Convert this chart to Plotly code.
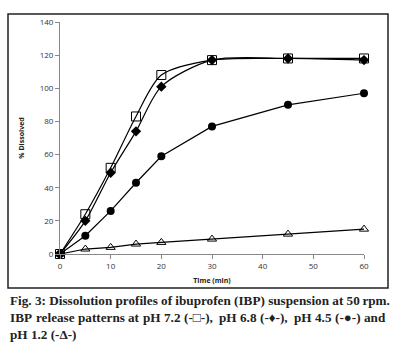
import plotly.graph_objects as go

time = [0, 5, 10, 15, 20, 30, 45, 60]
ph72 = [0, 24, 52, 83, 108, 117, 118, 118]
ph68 = [0, 20, 49, 74, 101, 117, 118, 117]
ph45 = [0, 11, 26, 43, 59, 77, 90, 97]
ph12 = [0, 3, 4, 6, 7, 9, 12, 15]

x_ticks = [0, 10, 20, 30, 40, 50, 60]
y_ticks = [0, 20, 40, 60, 80, 100, 120, 140]

caption = [
    "Fig. 3: Dissolution profiles of ibuprofen (IBP) suspension at 50\u202frpm.",
    "IBP release patterns at pH 7.2 (-\u25a1-), pH 6.8 (-\u2666-), pH 4.5 (-\u25cf-) and",
    "pH 1.2 (-\u0394-)",
]

fig = go.Figure()
fig.add_trace(go.Scatter(x=time, y=ph12, mode="lines+markers",
                         line=dict(color="black", width=1.2),
                         marker=dict(symbol="triangle-up-open", size=8, color="black", line=dict(width=1)),
                         cliponaxis=False))
fig.add_trace(go.Scatter(x=time, y=ph45, mode="lines+markers",
                         line=dict(color="black", width=1.2),
                         marker=dict(symbol="circle", size=8, color="black"),
                         cliponaxis=False))
fig.add_trace(go.Scatter(x=time, y=ph68, mode="lines+markers",
                         line=dict(color="black", width=1.2, shape="spline", smoothing=0.8),
                         marker=dict(symbol="diamond", size=8, color="black"),
                         cliponaxis=False))
fig.add_trace(go.Scatter(x=time, y=ph72, mode="lines+markers",
                         line=dict(color="black", width=1.2, shape="spline", smoothing=0.8),
                         marker=dict(symbol="square-open", size=9, color="black", line=dict(width=1)),
                         cliponaxis=False))

L, R, T, B = 60, 30, 22, 96
W, H = 394, 350
pw, ph = W - L - R, H - T - B

def px(x):
    return (x - L) / pw

def py(y):
    return (H - B - y) / ph

fig.update_layout(
    width=W, height=H,
    margin=dict(l=L, r=R, t=T, b=B),
    paper_bgcolor="white", plot_bgcolor="white",
    showlegend=False,
    font=dict(family="Open Sans", color="#333"),
    xaxis=dict(range=[0, 60], tickvals=x_ticks, showgrid=False, zeroline=False,
               showline=True, linecolor="#888", linewidth=1, ticks="outside",
               ticklen=4, tickcolor="#888", tickfont=dict(size=8, color="#333"),
               title=dict(text="<b>Time (min)</b>", font=dict(size=7, color="#222"), standoff=8)),
    yaxis=dict(range=[0, 140], tickvals=y_ticks, showgrid=False, zeroline=False,
               showline=True, linecolor="#888", linewidth=1, ticks="outside",
               ticklen=4, tickcolor="#888", tickfont=dict(size=8, color="#333"),
               title=dict(text="<b>% Dissolved</b>", font=dict(size=7, color="#222"), standoff=14)),
    shapes=[dict(type="rect", xref="paper", yref="paper",
                 x0=px(8), x1=px(388), y0=py(288), y1=py(14),
                 line=dict(color="#222", width=1.5))],
)

# Times-Bold approximate advance widths (per 1000 em) for justification
AFM = {' ': 250, 'a': 500, 'b': 556, 'c': 444, 'd': 556, 'e': 444, 'f': 333, 'g': 500,
       'h': 556, 'i': 278, 'j': 333, 'k': 556, 'l': 278, 'm': 833, 'n': 556, 'o': 500,
       'p': 556, 'q': 556, 'r': 444, 's': 389, 't': 333, 'u': 556, 'v': 500, 'w': 722,
       'x': 500, 'y': 500, 'z': 444, 'I': 389, 'B': 667, 'P': 611, 'H': 778, 'F': 611,
       'D': 722, '.': 250, ',': 250, ':': 333, '-': 333, '(': 333, ')': 333,
       '\u25a1': 800, '\u2666': 700, '\u25cf': 950, '\u0394': 612}

def text_w(s, size):
    return sum(AFM.get(c, 500) for c in s) * size / 1000.0

FS = 13.2
X0, X1 = 8, 388
line_y = [300, 317, 334]
font = dict(family="Liberation Serif", size=FS, color="#222")

def add_text(txt, x, y, anchor):
    fig.add_annotation(text="<b>" + txt + "</b>", xref="paper", yref="paper",
                       x=px(x), y=py(y), xanchor=anchor, yanchor="middle",
                       showarrow=False, font=font)

# line 1 and 3: normal
add_text(caption[0], X0, line_y[0], "left")
add_text(caption[2], X0, line_y[2], "left")

# line 2: justified word by word
words = caption[1].split(" ")
widths = [text_w(w_, FS) for w_ in words]
gap = (X1 - X0 - sum(widths)) / (len(words) - 1)
xc = X0
for i, (w_, ww) in enumerate(zip(words, widths)):
    if i == len(words) - 1:
        add_text(w_, X1, line_y[1], "right")
    else:
        add_text(w_, xc, line_y[1], "left")
    xc += ww + gap

fig.write_html("out.html")
